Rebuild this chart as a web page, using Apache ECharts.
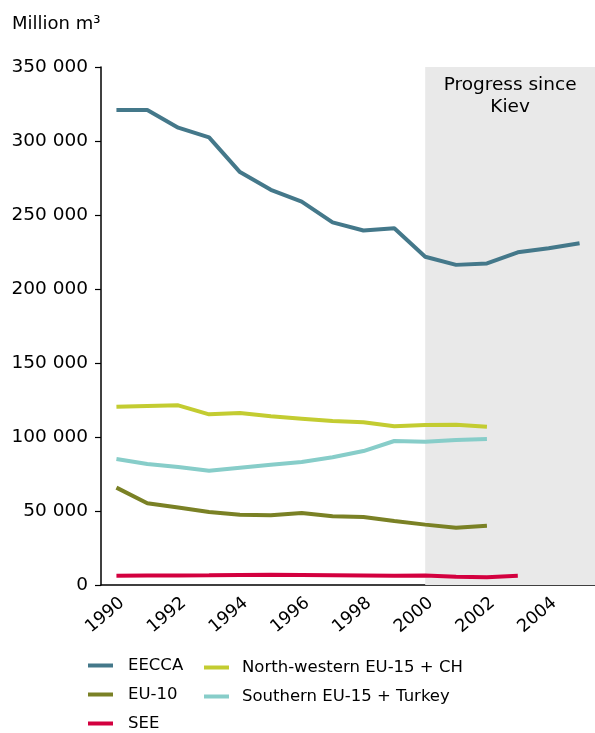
<!DOCTYPE html>
<html>
<head>
<meta charset="utf-8">
<script src="https://cdn.jsdelivr.net/npm/echarts@6/dist/echarts.min.js"></script>
<style>html,body{margin:0;padding:0;background:#fff;}#c{width:595px;height:733px;}</style>
</head>
<body>
<div id="c"></div>
<script>
const years = ['1990','1991','1992','1993','1994','1995','1996','1997','1998','1999','2000','2001','2002','2003','2004','2005'];
const eecca = [321000,321000,309000,302500,279000,267000,259000,245000,239500,241000,221800,216300,217300,224800,227500,230900];
const eu10 = [65800,55200,52300,49300,47500,47100,48700,46400,45900,43200,40800,38700,40100];
const see = [6300,6400,6500,6600,6800,7000,6800,6600,6400,6200,6500,5600,5300,6200];
const nwEu15 = [120500,121000,121400,115300,116200,114000,112400,110800,109900,107200,108100,108300,107000];
const southEu15 = [85100,81800,79700,77200,79300,81300,83100,86300,90500,97300,96800,98000,98600];
const yTicks = [0,50000,100000,150000,200000,250000,300000,350000];
const shadeFrom = 10; // index of 2000
const FONT = 'DejaVu Sans';

const chart = echarts.init(document.getElementById('c'), null, {renderer:'canvas'});
function line(name, data, color){
  return {name, type:'line', data, symbol:'none', smooth:false, z:3,
    lineStyle:{color, width:4}, itemStyle:{color}};
}
function leg(name, left, top, pad){
  return {orient:'vertical', icon:'rect', itemWidth:25, itemHeight:4, left, top, data:[name],
    textStyle:{fontFamily:FONT, fontSize:16.5, color:'#000', padding:[0,0,0,pad]}, selectedMode:false};
}
chart.setOption({
  animation:false,
  textStyle:{fontFamily:FONT},
  grid:{left:101, right:0, top:67, bottom:148, containLabel:false},
  title:{text:'Million m\u00B3', left:7, top:10, textStyle:{fontFamily:FONT, fontSize:18, fontWeight:'normal', color:'#000'}},
  legend:[
    leg('EECCA',83,652,10), leg('EU-10',83,681,10), leg('SEE',83,710,10),
    leg('North-western EU-15 + CH',199,654,8), leg('Southern EU-15 + Turkey',199,683,8)
  ],
  xAxis:[{
    type:'category', data:years, boundaryGap:true,
    axisLine:{onZero:false, lineStyle:{color:'#000', width:1.5}},
    axisTick:{alignWithLabel:true, length:6, lineStyle:{color:'#000', width:1.2}, interval:0},
    axisLabel:{interval:1, rotate:40, margin:9, verticalAlign:'top', fontFamily:FONT, fontSize:17.5, color:'#000'},
    splitLine:{show:false}
  },{
    type:'value', min:-0.5, max:15.5, show:false
  }],
  yAxis:{
    type:'value', min:0, max:350000, interval:50000,
    axisLine:{show:true, onZero:false, lineStyle:{color:'#000', width:1.5}},
    axisTick:{show:true, length:6, lineStyle:{color:'#000', width:1.2}},
    axisLabel:{margin:13, fontFamily:FONT, fontSize:18.5, color:'#000',
      formatter:v=>String(v).replace(/\B(?=(\d{3})+(?!\d))/g,' ')},
    splitLine:{show:false}
  },
  series:[
    {type:'line', xAxisIndex:1, data:[], silent:true,
      markArea:{silent:true, itemStyle:{color:'#e9e9e9'},
        label:{show:true, position:'insideTop', distance:7, formatter:'Progress since\nKiev', fontFamily:FONT, fontSize:18.5, color:'#000', lineHeight:22},
        data:[[{xAxis:shadeFrom, yAxis:yTicks[yTicks.length-1]},{xAxis:15.5, yAxis:0}]]}},
    line('EECCA', eecca, '#44788a'),
    line('EU-10', eu10, '#7a8125'),
    line('SEE', see, '#d3003f'),
    line('North-western EU-15 + CH', nwEu15, '#c3cc31'),
    line('Southern EU-15 + Turkey', southEu15, '#87cdc9')
  ]
});
</script>
</body>
</html>
